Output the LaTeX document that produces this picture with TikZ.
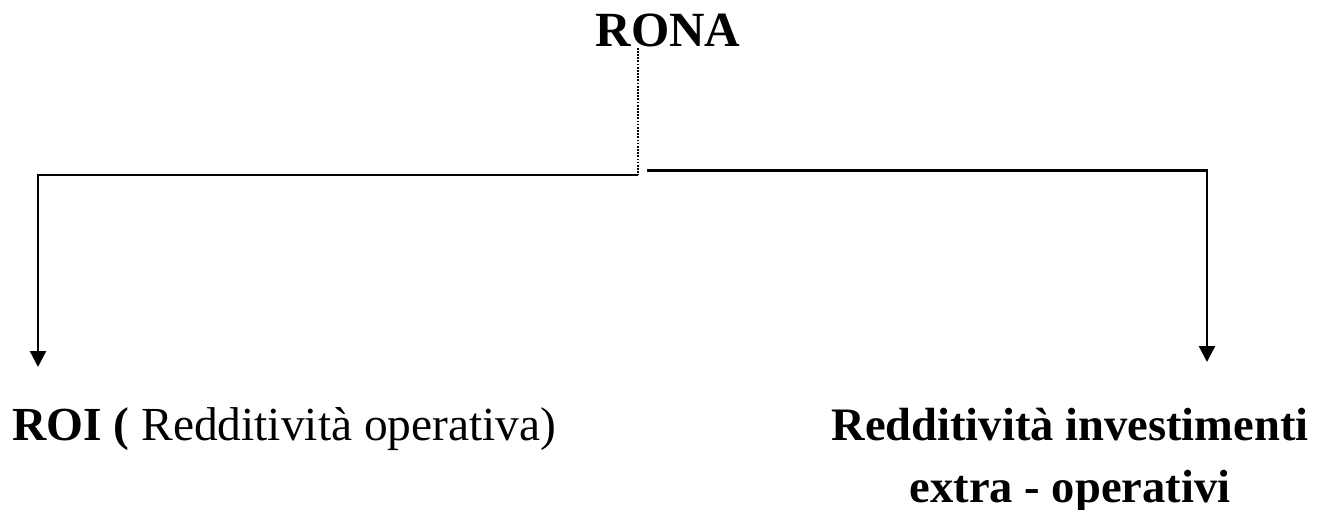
\documentclass[tikz,border=0pt]{standalone}
\usepackage{fontspec}
\setmainfont{Liberation Serif}
\usetikzlibrary{arrows.meta}
\begin{document}
\begin{tikzpicture}[x=0.02cm,y=-0.02cm,
  wire/.style={line width=1.3pt},
  branch/.style={wire, -{Triangle[width=9pt,length=9pt]}},
  dots/.style={line width=1.2pt, dash pattern=on 1pt off 0.8pt},
  titlefont/.style={font=\fontsize{28}{34}\selectfont\bfseries},
  labelfont/.style={font=\fontsize{27}{32}\selectfont},
  boldlabel/.style={font=\fontsize{26.5}{32}\selectfont\bfseries},
  lbl/.style={inner sep=0pt, anchor=base}]
\useasboundingbox (0,0) rectangle (1340,510);

% top node
\node[lbl, titlefont] (rona) at (668,47) {RONA};

% junction and corner points
\coordinate (jL) at (638,175);
\coordinate (jR) at (647,170.5);
\coordinate (cL) at (38,175);
\coordinate (cR) at (1207,170.5);
\coordinate (tL) at (38,367);
\coordinate (tR) at (1207,362);

% leaf labels
\node[lbl, labelfont, anchor=base west] (roi) at (12,440)
  {\textbf{ROI (} Redditività operativa)};
\node[lbl, boldlabel] (rie1) at (1070,440) {Redditività investimenti};
\node[lbl, boldlabel] (rie2) at (1070,502) {extra - operativi};

% connectors
\draw[dots] (rona.south -| jL) -- (jL);
\draw[branch] (jL) -- (cL) -- (tL);
\draw[branch] (jR) -- (cR) -- (tR);
\end{tikzpicture}
\end{document}
